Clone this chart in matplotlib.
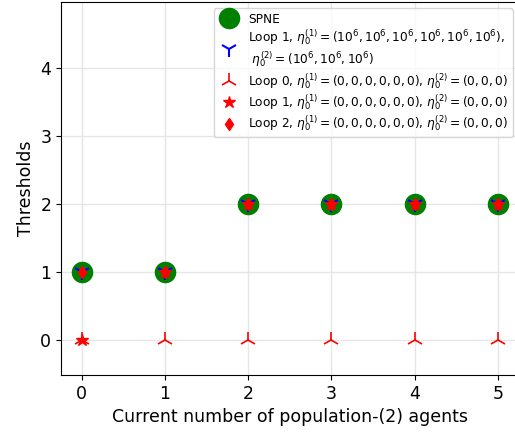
import matplotlib
matplotlib.use("Agg")
import matplotlib.pyplot as plt

# agents of population (2) and the thresholds found by each run
agents = [0, 1, 2, 3, 4, 5]
spne = [1, 1, 2, 2, 2, 2]
loop1_big = [1, 1, 2, 2, 2, 2]
loop0_zero = [0, 0, 0, 0, 0, 0]
loop1_zero = [0, 1, 2, 2, 2, 2]
loop2_zero = [1, 1, 2, 2, 2, 2]

fig = plt.figure(figsize=(5.15, 4.34), dpi=100)
ax = fig.add_axes([0.1184, 0.136, 0.8885, 0.859])

ax.plot(agents, spne, "o", color="green", markersize=14.5, label="SPNE", zorder=3)
ax.plot(agents, loop1_big, "1", color="blue", markersize=12, markeredgewidth=1.5,
        label="Loop 1, $\\eta_0^{(1)}=(10^6,10^6,10^6,10^6,10^6,10^6)$,\n"
              " $\\eta_0^{(2)}=(10^6,10^6,10^6)$", zorder=4)
ax.plot(agents, loop0_zero, "2", color="red", markersize=12, markeredgewidth=1.2,
        label="Loop 0, $\\eta_0^{(1)}=(0,0,0,0,0,0)$, $\\eta_0^{(2)}=(0,0,0)$", zorder=5)
ax.plot(agents, loop1_zero, "*", color="red", markersize=9,
        label="Loop 1, $\\eta_0^{(1)}=(0,0,0,0,0,0)$, $\\eta_0^{(2)}=(0,0,0)$", zorder=6)
ax.plot(agents, loop2_zero, "d", color="red", markersize=6,
        label="Loop 2, $\\eta_0^{(1)}=(0,0,0,0,0,0)$, $\\eta_0^{(2)}=(0,0,0)$", zorder=7)

ax.set_xlim(-0.25, 5.25)
ax.set_ylim(-0.515, 4.97)
ax.set_xticks(agents)
ax.set_yticks([0, 1, 2, 3, 4])
ax.tick_params(labelsize=12.5)
ax.grid(True, color="#e6e6e6", linewidth=1)
ax.set_axisbelow(True)
ax.set_xlabel("Current number of population-(2) agents", fontsize=12.5)
ax.set_ylabel("Thresholds", fontsize=12.5)

ax.legend(loc="upper right", bbox_to_anchor=(0.995, 0.993), fontsize=8.7,
          handlelength=1.8, handletextpad=0.7, borderaxespad=0.3,
          labelspacing=0.15, borderpad=0.35)

fig.savefig("out.png", dpi=100)
